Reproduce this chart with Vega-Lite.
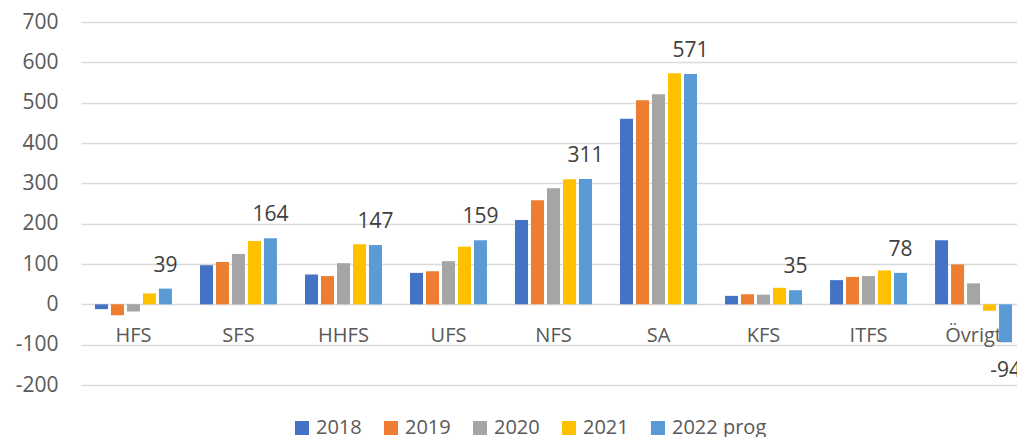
{
  "$schema": "https://vega.github.io/schema/vega-lite/v6.json",
  "autosize": "none",
  "width": 936,
  "height": 363,
  "padding": {"left": 81, "top": 22, "right": 0, "bottom": 52},
  "background": "white",
  "config": {
    "view": {"stroke": null},
    "font": "Open Sans",
    "axis": {"labelFont": "Open Sans"},
    "legend": {"labelFont": "Open Sans"}
  },
  "data": {
    "values": [
      {"kategori": "HFS", "ar": "2018", "varde": -12},
      {"kategori": "HFS", "ar": "2019", "varde": -27},
      {"kategori": "HFS", "ar": "2020", "varde": -18},
      {"kategori": "HFS", "ar": "2021", "varde": 27},
      {"kategori": "HFS", "ar": "2022 prog", "varde": 39},
      {"kategori": "SFS", "ar": "2018", "varde": 97},
      {"kategori": "SFS", "ar": "2019", "varde": 105},
      {"kategori": "SFS", "ar": "2020", "varde": 125},
      {"kategori": "SFS", "ar": "2021", "varde": 157},
      {"kategori": "SFS", "ar": "2022 prog", "varde": 164},
      {"kategori": "HHFS", "ar": "2018", "varde": 74},
      {"kategori": "HHFS", "ar": "2019", "varde": 70},
      {"kategori": "HHFS", "ar": "2020", "varde": 102},
      {"kategori": "HHFS", "ar": "2021", "varde": 149},
      {"kategori": "HHFS", "ar": "2022 prog", "varde": 147},
      {"kategori": "UFS", "ar": "2018", "varde": 78},
      {"kategori": "UFS", "ar": "2019", "varde": 82},
      {"kategori": "UFS", "ar": "2020", "varde": 107},
      {"kategori": "UFS", "ar": "2021", "varde": 143},
      {"kategori": "UFS", "ar": "2022 prog", "varde": 159},
      {"kategori": "NFS", "ar": "2018", "varde": 209},
      {"kategori": "NFS", "ar": "2019", "varde": 258},
      {"kategori": "NFS", "ar": "2020", "varde": 288},
      {"kategori": "NFS", "ar": "2021", "varde": 310},
      {"kategori": "NFS", "ar": "2022 prog", "varde": 311},
      {"kategori": "SA", "ar": "2018", "varde": 460},
      {"kategori": "SA", "ar": "2019", "varde": 506},
      {"kategori": "SA", "ar": "2020", "varde": 521},
      {"kategori": "SA", "ar": "2021", "varde": 573},
      {"kategori": "SA", "ar": "2022 prog", "varde": 571},
      {"kategori": "KFS", "ar": "2018", "varde": 21},
      {"kategori": "KFS", "ar": "2019", "varde": 25},
      {"kategori": "KFS", "ar": "2020", "varde": 24},
      {"kategori": "KFS", "ar": "2021", "varde": 41},
      {"kategori": "KFS", "ar": "2022 prog", "varde": 35},
      {"kategori": "ITFS", "ar": "2018", "varde": 60},
      {"kategori": "ITFS", "ar": "2019", "varde": 68},
      {"kategori": "ITFS", "ar": "2020", "varde": 70},
      {"kategori": "ITFS", "ar": "2021", "varde": 84},
      {"kategori": "ITFS", "ar": "2022 prog", "varde": 78},
      {"kategori": "Övrigt", "ar": "2018", "varde": 159},
      {"kategori": "Övrigt", "ar": "2019", "varde": 99},
      {"kategori": "Övrigt", "ar": "2020", "varde": 52},
      {"kategori": "Övrigt", "ar": "2021", "varde": -16},
      {"kategori": "Övrigt", "ar": "2022 prog", "varde": -94}
    ]
  },
  "encoding": {
    "x": {
      "field": "kategori",
      "type": "nominal",
      "sort": null,
      "scale": {"range": [0, 945], "paddingInner": 0.267, "paddingOuter": 0.133},
      "axis": {
        "title": null,
        "orient": "bottom",
        "offset": -60,
        "domain": false,
        "ticks": false,
        "grid": false,
        "labelPadding": 0,
        "labelAngle": 0,
        "labelFontSize": 20,
        "labelColor": "#595959",
        "labelBaseline": "top"
      }
    },
    "xOffset": {
      "field": "ar",
      "type": "nominal",
      "sort": ["2018", "2019", "2020", "2021", "2022 prog"],
      "scale": {"paddingInner": 0.1875, "paddingOuter": 0}
    },
    "y": {
      "field": "varde",
      "type": "quantitative",
      "scale": {"domain": [-200, 700], "nice": false, "zero": true},
      "axis": {
        "title": null,
        "values": [-200, -100, 0, 100, 200, 300, 400, 500, 600, 700],
        "labelExpr": "'' + datum.value",
        "domain": false,
        "ticks": false,
        "grid": true,
        "gridColor": "#D9D9D9",
        "gridWidth": 1.3,
        "labelPadding": 23,
        "labelFontSize": 21,
        "labelColor": "#595959"
      }
    }
  },
  "layer": [
    {
      "mark": {"type": "bar"},
      "encoding": {
        "color": {
          "field": "ar",
          "type": "nominal",
          "scale": {
            "domain": ["2018", "2019", "2020", "2021", "2022 prog"],
            "range": ["#4472C4", "#ED7D31", "#A5A5A5", "#FFC000", "#5B9BD5"]
          },
          "legend": {
            "title": null,
            "orient": "none",
            "direction": "horizontal",
            "columns": 5,
            "legendX": 211,
            "legendY": 396,
            "symbolType": "square",
            "symbolSize": 196,
            "symbolStrokeWidth": 0,
            "labelFontSize": 20,
            "labelColor": "#595959",
            "labelOffset": 4,
            "columnPadding": 19
          }
        }
      }
    },
    {
      "transform": [{"filter": "datum.ar === '2022 prog' && datum.varde >= 0"}],
      "mark": {"type": "text", "baseline": "alphabetic", "dy": -17, "fontSize": 21, "color": "#404040"},
      "encoding": {"text": {"field": "varde", "type": "nominal"}}
    },
    {
      "transform": [{"filter": "datum.ar === '2022 prog' && datum.varde < 0"}],
      "mark": {"type": "text", "baseline": "alphabetic", "dy": 35, "fontSize": 21, "color": "#404040"},
      "encoding": {"text": {"field": "varde", "type": "nominal"}}
    }
  ]
}
